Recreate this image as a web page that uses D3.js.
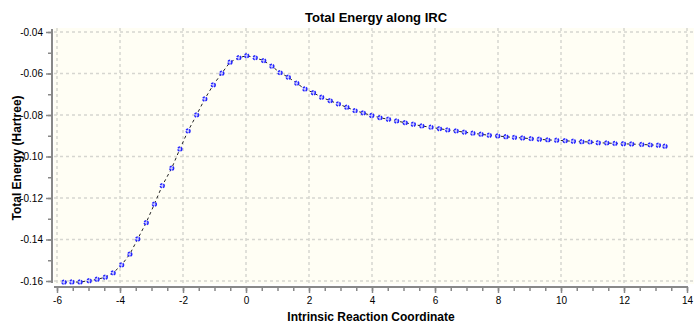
<!DOCTYPE html>
<html>
<head>
<meta charset="utf-8">
<script src="https://cdn.jsdelivr.net/npm/d3@7"></script>
<style>
  html, body { margin: 0; padding: 0; background: #ffffff; }
  svg { display: block; }
  text { font-family: "Liberation Sans", Arial, Helvetica, sans-serif; }
</style>
</head>
<body>
<svg id="chart" width="697" height="323"></svg>
<script>
// ---- data ----
const ircCoord = [
  -5.78, -5.53, -5.27, -4.98, -4.73, -4.47, -4.22, -3.95, -3.69, -3.44,
  -3.17, -2.91, -2.66, -2.36, -2.10, -1.84, -1.57, -1.31, -1.04, -0.77,
  -0.51, -0.23, 0.02, 0.29, 0.56, 0.82, 1.08, 1.34, 1.61, 1.87,
  2.14, 2.40, 2.67, 2.93, 3.20, 3.46, 3.72, 3.99, 4.25, 4.52,
  4.78, 5.05, 5.31, 5.58, 5.87, 6.14, 6.40, 6.67, 6.93, 7.20,
  7.46, 7.72, 7.99, 8.25, 8.52, 8.78, 9.05, 9.31, 9.58, 9.86,
  10.13, 10.39, 10.66, 10.92, 11.18, 11.45, 11.71, 11.98, 12.24, 12.56,
  12.83, 13.09, 13.30
];
const totalEnergy = [
  -0.1606, -0.1605, -0.1605, -0.1599, -0.1592, -0.1582, -0.1561, -0.1523, -0.1471, -0.1398,
  -0.1319, -0.1230, -0.1141, -0.1057, -0.0964, -0.0877, -0.0800, -0.0723, -0.0655, -0.0599,
  -0.0546, -0.0524, -0.0514, -0.0524, -0.0538, -0.0565, -0.0596, -0.0618, -0.0647, -0.0675,
  -0.0693, -0.0715, -0.0731, -0.0747, -0.0763, -0.0779, -0.0790, -0.0803, -0.0813, -0.0821,
  -0.0829, -0.0837, -0.0845, -0.0853, -0.0859, -0.0866, -0.0872, -0.0877, -0.0883, -0.0888,
  -0.0893, -0.0898, -0.0901, -0.0905, -0.0908, -0.0911, -0.0914, -0.0917, -0.0920, -0.0922,
  -0.0924, -0.0927, -0.0929, -0.0930, -0.0934, -0.0935, -0.0937, -0.0939, -0.0940, -0.0942,
  -0.0944, -0.0946, -0.0951
];
const xTicks = [-6, -4, -2, 0, 2, 4, 6, 8, 10, 12, 14];
const xMinorTicks = d3.range(-6, 14.01, 0.5);
const yTicks = [-0.04, -0.06, -0.08, -0.10, -0.12, -0.14, -0.16];
const yMinorTicks = d3.range(-0.16, -0.0399, 0.01);
const titleText = "Total Energy along IRC";
const xLabel = "Intrinsic Reaction Coordinate";
const yLabel = "Total Energy (Hartree)";

const points = ircCoord.map((x, i) => ({ x: x, y: totalEnergy[i] }));

// ---- layout ----
const svg = d3.select("#chart");
const x = d3.scaleLinear().domain([-6, 14]).range([57, 687]);
const y = d3.scaleLinear().domain([-0.16, -0.04]).range([281, 32]);

// plot background
svg.append("rect")
  .attr("x", 54).attr("y", 28)
  .attr("width", 694 - 54).attr("height", 284 - 28)
  .attr("fill", "#fffef4");

// grid
const grid = svg.append("g").attr("stroke", "#d6d6d0").attr("stroke-width", 1.5)
  .attr("stroke-dasharray", "3,3");
grid.selectAll("line.v").data(xTicks).join("line")
  .attr("class", "v")
  .attr("x1", d => x(d)).attr("x2", d => x(d))
  .attr("y1", 28).attr("y2", 284);
grid.selectAll("line.h").data(yTicks).join("line")
  .attr("class", "h")
  .attr("x1", 54).attr("x2", 694)
  .attr("y1", d => y(d)).attr("y2", d => y(d));

// left axis
const yAxisG = svg.append("g").attr("transform", "translate(52,0)")
  .call(d3.axisLeft(y).tickValues(yMinorTicks).tickSize(4).tickFormat(""));
const yMajor = svg.append("g").attr("transform", "translate(52,0)")
  .call(d3.axisLeft(y).tickValues(yTicks).tickSize(6).tickPadding(3)
    .tickFormat(d => d.toFixed(2)));
[yAxisG, yMajor].forEach(g => {
  g.select(".domain").remove();
  g.selectAll(".tick line").attr("stroke", "#888").attr("stroke-width", 1.5);
});
yMajor.selectAll(".tick text").attr("font-size", 10).attr("fill", "#000")
  .style("font-family", "'Liberation Sans', Arial, sans-serif");
svg.append("line").attr("x1", 52).attr("x2", 52).attr("y1", 29).attr("y2", 283)
  .attr("stroke", "#888").attr("stroke-width", 2);

// bottom axis
const xAxisG = svg.append("g").attr("transform", "translate(0,287)")
  .call(d3.axisBottom(x).tickValues(xMinorTicks).tickSize(4).tickFormat(""));
const xMajor = svg.append("g").attr("transform", "translate(0,287)")
  .call(d3.axisBottom(x).tickValues(xTicks).tickSize(6).tickPadding(4)
    .tickFormat(d => String(d)));
[xAxisG, xMajor].forEach(g => {
  g.select(".domain").remove();
  g.selectAll(".tick line").attr("stroke", "#888").attr("stroke-width", 1.5);
});
xMajor.selectAll(".tick text").attr("font-size", 10).attr("fill", "#000")
  .style("font-family", "'Liberation Sans', Arial, sans-serif");
svg.append("line").attr("x1", 54).attr("x2", 688).attr("y1", 287).attr("y2", 287)
  .attr("stroke", "#888").attr("stroke-width", 2);

// dashed line
const line = d3.line().x(d => x(d.x)).y(d => y(d.y));
svg.append("path").datum(points)
  .attr("d", line)
  .attr("fill", "none")
  .attr("stroke", "#222")
  .attr("stroke-width", 1)
  .attr("stroke-dasharray", "3,3");

// markers
svg.append("g").selectAll("circle").data(points).join("circle")
  .attr("cx", d => x(d.x)).attr("cy", d => y(d.y))
  .attr("r", 2)
  .attr("fill", "#c8c8ff")
  .attr("stroke", "#2424ff")
  .attr("stroke-width", 1.5)
  .attr("stroke-dasharray", "2.2,1.0");

// titles
svg.append("text").attr("x", 376).attr("y", 22)
  .attr("text-anchor", "middle").attr("font-size", 13).attr("font-weight", "bold")
  .text(titleText);
svg.append("text").attr("x", 371).attr("y", 321)
  .attr("text-anchor", "middle").attr("font-size", 12).attr("font-weight", "bold")
  .text(xLabel);
svg.append("text")
  .attr("transform", "translate(21,158) rotate(-90)")
  .attr("text-anchor", "middle").attr("font-size", 12).attr("font-weight", "bold")
  .text(yLabel);
</script>
</body>
</html>
